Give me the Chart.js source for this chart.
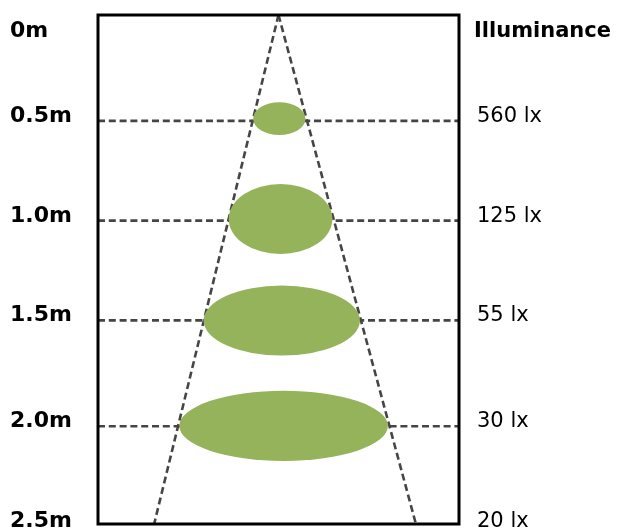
<!DOCTYPE html>
<html>
<head>
<meta charset="utf-8">
<script src="https://cdn.jsdelivr.net/npm/chart.js@4.4.1/dist/chart.umd.min.js"></script>
<style>
  html, body { margin: 0; padding: 0; background: #fff; }
  #wrap { width: 619px; height: 528px; }
</style>
</head>
<body>
<div id="wrap"><canvas id="beam" width="619" height="528"></canvas></div>
<script>
// depth marks (m) and their labels
const depthLabels = ['0m', '0.5m', '1.0m', '1.5m', '2.0m', '2.5m'];
const depthValues = [0, 0.52, 1.01, 1.5, 2.02, 2.5];
const luxLabels = ['', '560 lx', '125 lx', '55 lx', '30 lx', '20 lx'];

// light cone edges: apex at 0m, spread at 2.5m (m)
const coneLeftX = [0, -0.609];
const coneRightX = [0, 0.673];
const coneDepth = [0, 2.5];

// spot ellipses (m)
const spotCx = [0.004, 0.010, 0.016, 0.025];
const spotCy = [0.509, 1.002, 1.501, 2.018];
const spotRx = [0.128, 0.254, 0.383, 0.511];
const spotRy = [0.081, 0.172, 0.172, 0.172];

const X_MIN = -0.884, X_MAX = 0.884;
const dash = { borderColor: '#454545', borderWidth: 2.6, borderDash: [7, 3.8], pointRadius: 0, showLine: true, fill: false, tension: 0 };

const datasets = [
    { ...dash, data: coneDepth.map((d, i) => ({ x: coneLeftX[i], y: d })) },
    { ...dash, data: coneDepth.map((d, i) => ({ x: coneRightX[i], y: d })) }
];
depthValues.slice(1, 5).forEach(d => {
    datasets.push({ ...dash, data: [{ x: X_MIN, y: d }, { x: X_MAX, y: d }] });
});

const spotsAndText = {
    id: 'spotsAndText',
    afterDatasetsDraw(chart) {
        const { ctx, chartArea: a, scales: { x, y } } = chart;
        ctx.save();
        // green spots sit on top of the dashed lines
        ctx.fillStyle = '#94b35a';
        spotCx.forEach((cx, i) => {
            const px = x.getPixelForValue(cx), py = y.getPixelForValue(spotCy[i]);
            const rx = x.getPixelForValue(cx + spotRx[i]) - px;
            const ry = y.getPixelForValue(spotCy[i] + spotRy[i]) - py;
            ctx.beginPath();
            ctx.ellipse(px, py, rx, Math.abs(ry), 0, 0, Math.PI * 2);
            ctx.fill();
        });
        // frame
        ctx.strokeStyle = '#000';
        ctx.lineWidth = 3;
        ctx.strokeRect(a.left, a.top, a.right - a.left, a.bottom - a.top);

        // labels
        ctx.fillStyle = '#000';
        ctx.textBaseline = 'alphabetic';
        ctx.textAlign = 'left';
        depthValues.forEach((d, i) => {
            let py = y.getPixelForValue(d) + 1;
            if (i === 0) py = a.top + 22;
            if (i === depthValues.length - 1) py = a.bottom + 3;
            ctx.font = 'bold 22px "DejaVu Sans"';
            ctx.fillText(depthLabels[i], 10, py);
            if (i === 0) {
                ctx.font = 'bold 21px "DejaVu Sans"';
                ctx.fillText('Illuminance', 474, py);
            } else {
                ctx.font = '21px "DejaVu Sans"';
                ctx.fillText(luxLabels[i], 477, py);
            }
        });
        ctx.restore();
    }
};

new Chart(document.getElementById('beam'), {
    type: 'scatter',
    data: { datasets },
    options: {
        responsive: false,
        animation: false,
        layout: { padding: { left: 98, right: 160, top: 15, bottom: 4 } },
        plugins: { legend: { display: false }, tooltip: { enabled: false } },
        scales: {
            x: { type: 'linear', min: X_MIN, max: X_MAX, display: false },
            y: { type: 'linear', min: 0, max: 2.5, reverse: true, display: false }
        }
    },
    plugins: [spotsAndText]
});
</script>
</body>
</html>
